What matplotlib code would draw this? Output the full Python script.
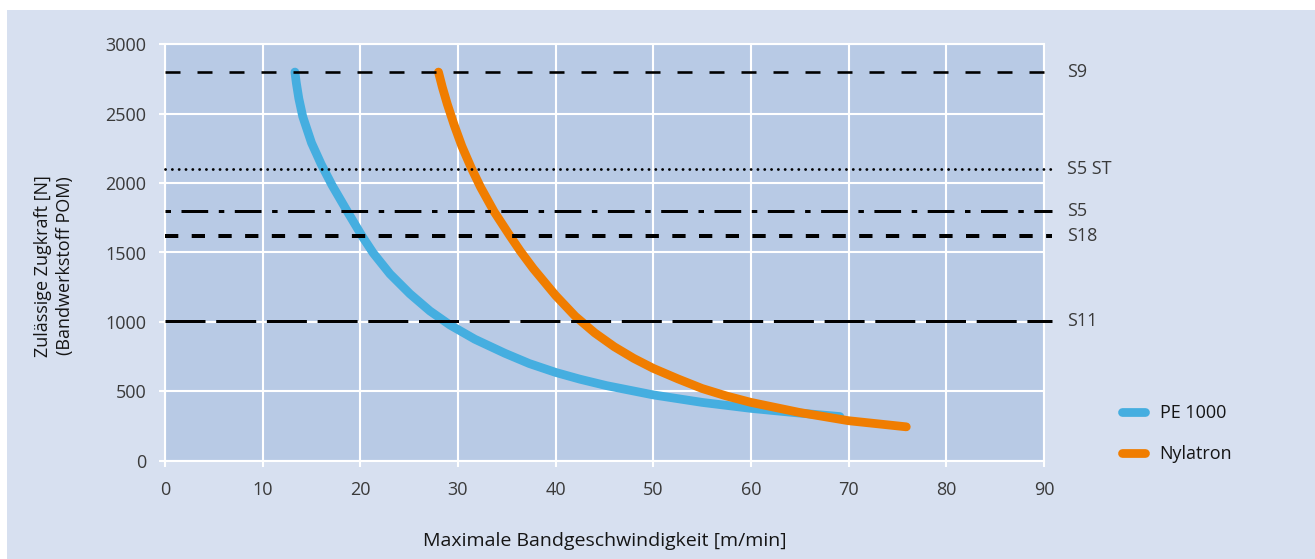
import matplotlib.pyplot as plt
from matplotlib.patches import Rectangle
from matplotlib.lines import Line2D

# PE 1000 curve (speed m/min, force N)
pe_speed = [13.3, 13.45, 13.7, 14.1, 15.0, 16.0, 17.1, 18.8, 20.16, 21.32, 23.03, 25.08,
            27.12, 29.17, 31.73, 34.8, 37.3, 40.0, 42.5, 45.2, 50.0, 55.0, 60.0, 65.0, 69.1]
pe_force = [2800, 2720, 2610, 2480, 2290, 2135, 1985, 1780, 1620, 1496, 1346, 1202,
            1079, 978, 875, 774, 700, 636, 587, 541, 474, 420, 377, 343, 318]

# Nylatron curve
ny_speed = [28.0, 28.4, 28.9, 29.6, 30.4, 31.35, 32.3, 33.7, 35.3, 36.4, 37.7, 40.0,
            42.0, 44.0, 46.0, 48.0, 50.0, 52.5, 55.0, 57.5, 60.0, 65.0, 70.0, 75.9]
ny_force = [2800, 2690, 2570, 2420, 2265, 2111, 1972, 1794, 1622, 1508, 1385, 1190,
            1041, 921, 821, 737, 665, 590, 520, 466, 420, 347, 288, 244]

# belt type limits
belt_names = ['S9', 'S5 ST', 'S5', 'S18', 'S11']
belt_limits = [2800, 2100, 1800, 1620, 1005]

px = 0.72  # one pixel in points at dpi 100
belt_styles = {
    'S9': dict(lw=2.6 * px, ls=(0, (15 * px, 17 * px))),
    'S5 ST': dict(lw=2.8 * px, ls=(0, (0.1, 6.67 * px)), dash_capstyle='round'),
    'S5': dict(lw=3 * px, ls=(0, (5.5 * px, 10.5 * px, 26.7 * px, 10.6 * px))),
    'S18': dict(lw=4 * px, ls=(0, (13.3 * px, 13.4 * px))),
    'S11': dict(lw=3 * px, ls=(0, (40 * px, 10.7 * px))),
}

plt.rcParams['font.family'] = ['Open Sans', 'DejaVu Sans']
plt.rcParams['lines.scale_dashes'] = False
txt = '#3a3a3a'
dark = '#151515'

fig = plt.figure(figsize=(13.15, 5.59), dpi=100, facecolor='white')
fig.patches.append(Rectangle((7 / 1315, 0), 1, 1 - 9.5 / 559, transform=fig.transFigure,
                             facecolor='#d7e0f0', edgecolor='none', zorder=-10))
ax = fig.add_axes([165 / 1315, 1 - 460.7 / 559, 879 / 1315, 416.4 / 559])
ax.set_facecolor('#b8cae5')

ax.set_xlim(0, 90)
ax.set_ylim(0, 3000)
ax.set_xticks(range(0, 91, 10))
ax.set_yticks(range(0, 3001, 500))
ax.grid(True, color='white', lw=1.5)
ax.set_axisbelow(True)
for s in ax.spines.values():
    s.set_color('white')
    s.set_linewidth(1.5)
ax.tick_params(colors='white', length=4.3, width=1.5, labelsize=13, labelcolor=txt)
ax.tick_params(axis='y', pad=9)
ax.tick_params(axis='x', pad=10)

ax.plot(pe_speed, pe_force, color='#45aee0', lw=6.3, solid_capstyle='round',
        solid_joinstyle='round', zorder=3)
ax.plot(ny_speed, ny_force, color='#f07d00', lw=6.3, solid_capstyle='round',
        solid_joinstyle='round', zorder=3)

for name, lim in zip(belt_names, belt_limits):
    ax.plot([0, 90.8], [lim, lim], color='black', clip_on=False, zorder=4,
            **belt_styles[name])
    ax.text(92.4, lim, name, va='center', ha='left', fontsize=13, color=txt)

ax.set_xlabel('Maximale Bandgeschwindigkeit [m/min]', fontsize=14, color=dark, labelpad=24)
fig.text(54 / 1315, 1 - 266 / 559, 'Zulässige Zugkraft [N]\n(Bandwerkstoff POM)',
         rotation=90, ha='center', va='center', fontsize=13, color=dark,
         linespacing=1.3, multialignment='center')

handles = [Line2D([], [], color='#45aee0', lw=6.3, solid_capstyle='round'),
           Line2D([], [], color='#f07d00', lw=6.3, solid_capstyle='round')]
ax.legend(handles, ['PE 1000', 'Nylatron'], loc='center left',
          bbox_to_anchor=(1.07, 0.065), frameon=False, fontsize=13,
          handlelength=1.3, labelspacing=1.25, handletextpad=0.8,
          labelcolor=dark)

fig.savefig('out.png', dpi=100, facecolor='white')
